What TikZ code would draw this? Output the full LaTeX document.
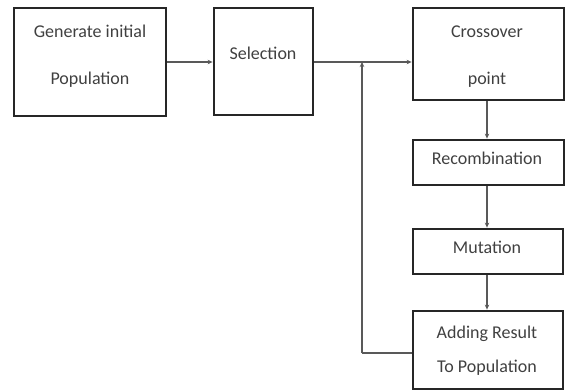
\documentclass[tikz,border=0pt]{standalone}
\usepackage{fontspec}
\setmainfont{Carlito}
\usetikzlibrary{arrows.meta}
\begin{document}
\begin{tikzpicture}[x=1pt,y=-1pt,
  stepbox/.style={draw=black!85,line width=2.8pt,inner sep=0pt},
  txt/.style={font=\fontsize{18}{20}\selectfont,text=black!75,inner sep=0pt},
  link/.style={draw=black!65,line width=1.3pt,-{Stealth[length=5pt,width=4.5pt]}},
  plain/.style={draw=black!65,line width=1.3pt}]
\useasboundingbox (0,0) rectangle (566,391);
% boxes
\node[stepbox,minimum width=152pt,minimum height=108pt] (gen) at (90,62) {};
\node[stepbox,minimum width=99pt,minimum height=107pt] (sel) at (263.5,61.5) {};
\node[stepbox,minimum width=151pt,minimum height=92pt] (cross) at (488.5,54) {};
\node[stepbox,minimum width=151pt,minimum height=45pt] (reco) at (488.5,162.5) {};
\node[stepbox,minimum width=150pt,minimum height=45pt] (mut) at (488,251.5) {};
\node[stepbox,minimum width=150pt,minimum height=78pt] (add) at (488,350) {};
% labels
\node[txt] at (90,31) {Generate initial};
\node[txt] at (90,80) {Population};
\node[txt] at (263,53) {Selection};
\node[txt] at (487,32) {Crossover};
\node[txt] at (487,80) {point};
\node[txt] at (487,158) {Recombination};
\node[txt] at (487,247) {Mutation};
\node[txt] at (487,334) {Adding Result};
\node[txt] at (487,368) {To Population};
% connectors
\coordinate (j) at (362,62);
\coordinate (c) at (362,353);
\draw[link] (gen.east |- 0,62) -- (sel.west |- 0,62);
\draw[link] (sel.east |- 0,62) -- (cross.west |- 0,62);
\draw[link] (cross.south -| 487,0) -- (reco.north -| 487,0);
\draw[link] (reco.south -| 487,0) -- (mut.north -| 487,0);
\draw[link] (mut.south -| 487,0) -- (add.north -| 487,0);
\draw[plain] (add.west |- c) -- (c);
\draw[link] (c) -- (j);
\end{tikzpicture}
\end{document}
